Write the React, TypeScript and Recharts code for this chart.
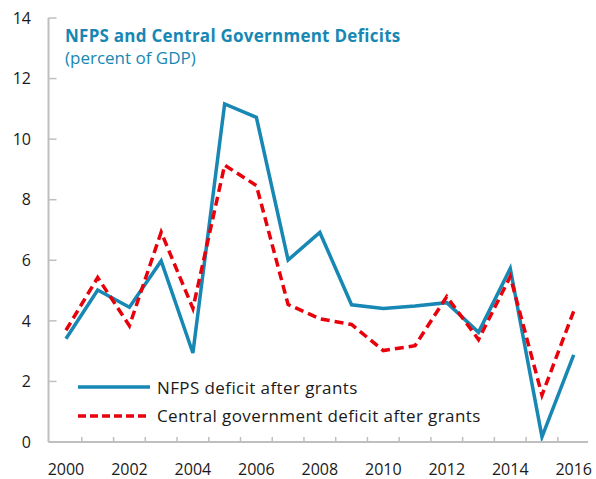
import React from 'react';
import { LineChart, Line, XAxis, YAxis, Legend } from 'recharts';

const years = [2000, 2001, 2002, 2003, 2004, 2005, 2006, 2007, 2008, 2009, 2010, 2011, 2012, 2013, 2014, 2015, 2016];
const nfpsDeficit = [3.41, 5.02, 4.45, 5.98, 2.94, 11.16, 10.72, 6.01, 6.92, 4.53, 4.41, 4.49, 4.6, 3.62, 5.73, 0.17, 2.88];
const centralDeficit = [3.69, 5.43, 3.84, 6.93, 4.41, 9.14, 8.47, 4.54, 4.07, 3.88, 3.02, 3.18, 4.8, 3.38, 5.46, 1.55, 4.32];
const yTicks = [0, 2, 4, 6, 8, 10, 12, 14];
const xLabelTicks = [2000, 2002, 2004, 2006, 2008, 2010, 2012, 2014, 2016];
const xMinorTicks = [2000.5, 2001.5, 2002.5, 2003.5, 2004.5, 2005.5, 2006.5, 2007.5, 2008.5, 2009.5, 2010.5, 2011.5, 2012.5, 2013.5, 2014.5, 2015.5];

const seriesNames = ['NFPS deficit after grants', 'Central government deficit after grants'];
const title = 'NFPS and Central Government Deficits';
const subtitle = '(percent of GDP)';

const data = years.map((y, i) => ({ year: y, nfps: nfpsDeficit[i], central: centralDeficit[i] }));
const allXTicks = [...xLabelTicks, ...xMinorTicks].sort((a, b) => a - b);

const BLUE = '#1787B3';
const RED = '#E8000B';
const GRAY = '#BFBFBF';
const FONT = '"Open Sans", "Noto Sans", sans-serif';
const X_DOMAIN: [number, number] = [1999.45, 2016.45];
const X_TICK_SIZE = 6;
const X_TICK_MARGIN = 15.5;

const YTick = (props: any) => {
  const { x, y, payload } = props;
  return (
    <g>
      <line x1={x + 17.5} x2={x + 25.5} y1={y} y2={y} stroke={GRAY} strokeWidth={1.5} />
      <text x={x} y={y} dy="0.36em" textAnchor="end" fontSize={16} fill="#1a1a1a" fontFamily={FONT}>
        {payload.value}
      </text>
    </g>
  );
};

const XTick = (props: any) => {
  const { x, y, payload } = props;
  const v = payload.value;
  if (xMinorTicks.includes(v)) {
    const axisY = y - X_TICK_SIZE - X_TICK_MARGIN;
    return <line x1={x} x2={x} y1={axisY} y2={axisY - 5} stroke={GRAY} strokeWidth={1.5} />;
  }
  return (
    <text x={x} y={y} dy="0.71em" textAnchor="middle" fontSize={16} fill="#1a1a1a" fontFamily={FONT}>
      {v}
    </text>
  );
};

const LegendContent = () => (
  <div style={{ fontFamily: FONT, fontSize: 17, letterSpacing: 0.4, color: '#1a1a1a', whiteSpace: 'nowrap' }}>
    {[{ c: BLUE, d: undefined }, { c: RED, d: '8 4' }].map((s, i) => (
      <div key={i} style={{ display: 'flex', alignItems: 'center', height: 28.5 }}>
        <svg width={72} height={6} style={{ marginRight: 7 }}>
          <line x1={0} x2={72} y1={3} y2={3} stroke={s.c} strokeWidth={3.5} strokeDasharray={s.d} />
        </svg>
        <span>{seriesNames[i]}</span>
      </div>
    ))}
  </div>
);

export default function App() {
  return (
    <div style={{ position: 'absolute', left: 0, top: 0, width: 596, height: 479, background: '#fff' }}>
      <LineChart width={596} height={479} data={data} margin={{ top: 18, right: 8, bottom: 0, left: 0 }}>
        <XAxis
          xAxisId="main"
          dataKey="year"
          type="number"
          domain={X_DOMAIN}
          allowDataOverflow
          ticks={allXTicks}
          interval={0}
          height={37}
          tickLine={false}
          tickSize={X_TICK_SIZE}
          tickMargin={X_TICK_MARGIN}
          axisLine={{ stroke: GRAY, strokeWidth: 2 }}
          tick={<XTick />}
        />
        <XAxis
          xAxisId="top"
          orientation="top"
          dataKey="year"
          type="number"
          domain={X_DOMAIN}
          allowDataOverflow
          height={0}
          tick={false}
          tickLine={false}
          axisLine={{ stroke: '#C8C8C8', strokeWidth: 1.5 }}
        />
        <YAxis
          yAxisId="main"
          type="number"
          domain={[0, 14]}
          ticks={yTicks}
          interval={0}
          width={48.5}
          tickLine={false}
          tickSize={0}
          tickMargin={17.5}
          axisLine={{ stroke: GRAY, strokeWidth: 2 }}
          tick={<YTick />}
        />
        <YAxis
          yAxisId="right"
          orientation="right"
          type="number"
          domain={[0, 14]}
          width={0}
          tick={false}
          tickLine={false}
          axisLine={{ stroke: '#C8C8C8', strokeWidth: 1.5 }}
        />
        <Line
          xAxisId="main"
          yAxisId="main"
          dataKey="nfps"
          stroke={BLUE}
          strokeWidth={3.5}
          dot={false}
          activeDot={false}
          isAnimationActive={false}
        />
        <Line
          xAxisId="main"
          yAxisId="main"
          dataKey="central"
          stroke={RED}
          strokeWidth={3.5}
          strokeDasharray="9 5"
          dot={false}
          activeDot={false}
          isAnimationActive={false}
        />
        <Legend
          layout="vertical"
          align="center"
          verticalAlign="middle"
          content={<LegendContent />}
          wrapperStyle={{ position: 'absolute', left: 78, top: 373, width: 'auto', height: 'auto', bottom: 'auto', right: 'auto' }}
        />
      </LineChart>
      <div
        style={{
          position: 'absolute',
          left: 65,
          top: 25,
          fontFamily: FONT,
          fontSize: 17,
          lineHeight: '22px',
          color: BLUE,
          whiteSpace: 'nowrap',
        }}
      >
        <div style={{ fontWeight: 700, letterSpacing: 0.25 }}>{title}</div>
        <div>{subtitle}</div>
      </div>
    </div>
  );
}
